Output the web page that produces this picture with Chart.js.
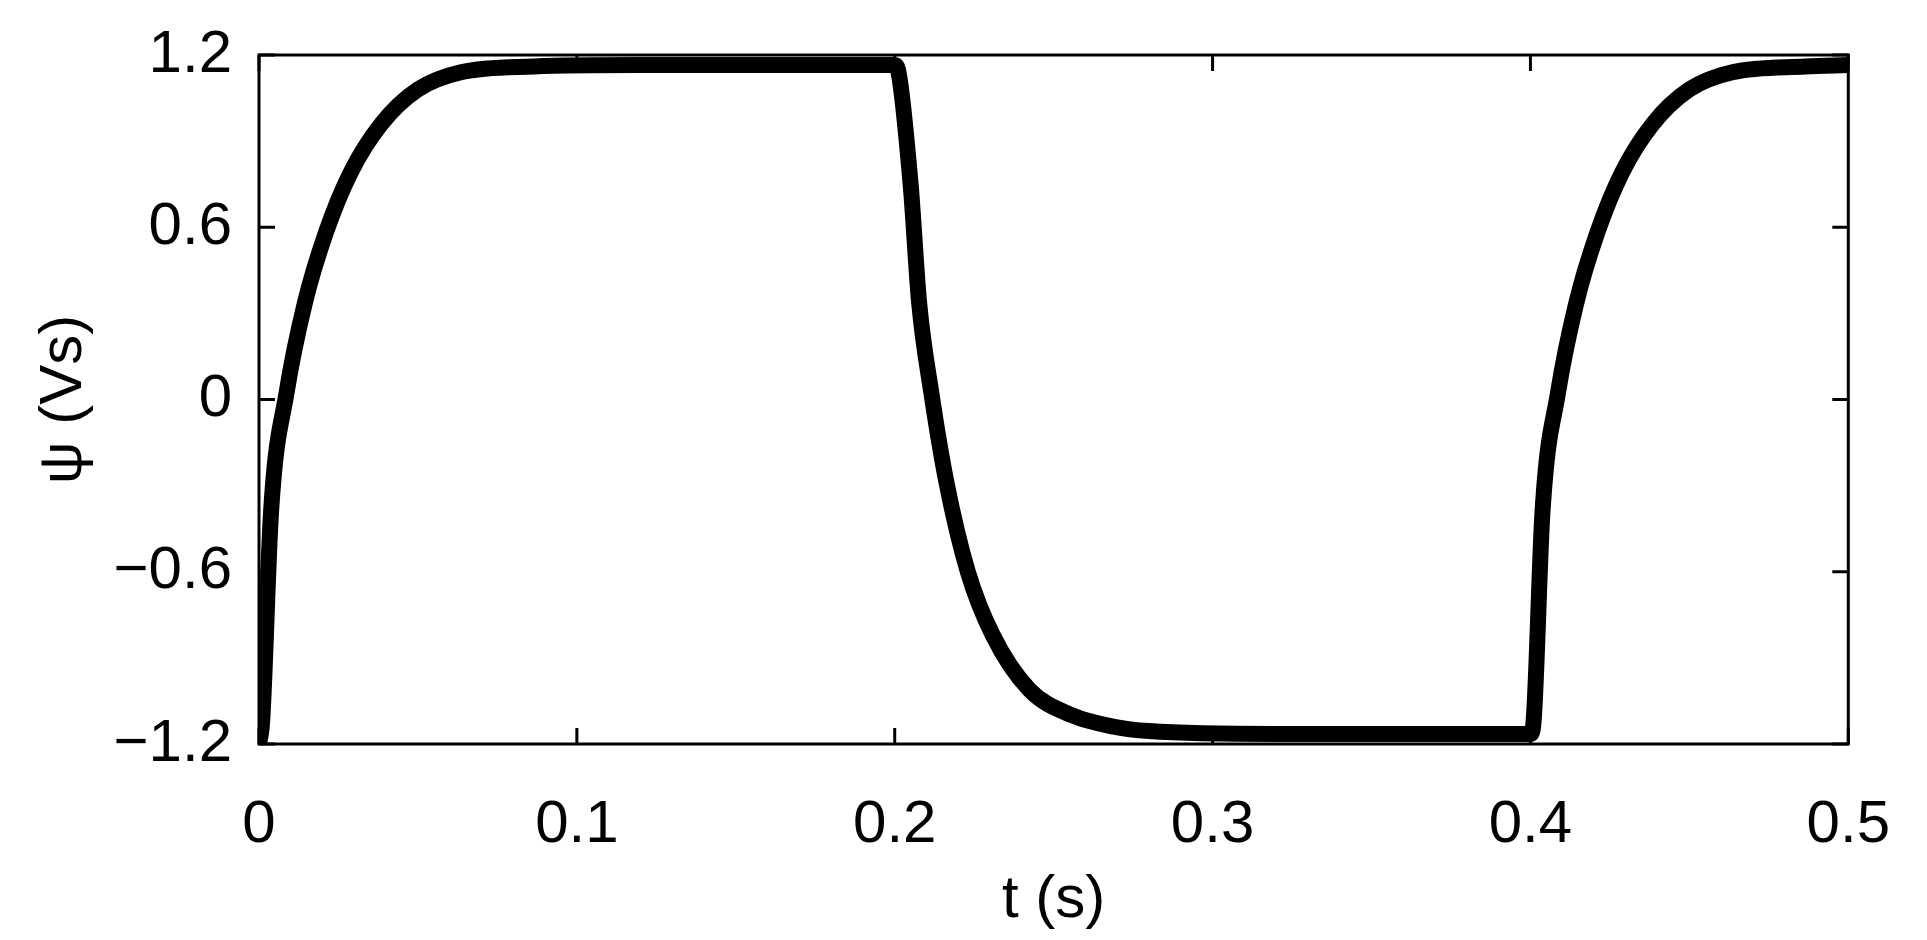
<!DOCTYPE html>
<html><head><meta charset="utf-8">
<script src="https://cdn.jsdelivr.net/npm/chart.js@4"></script>
<style>html,body{margin:0;padding:0;background:#fff}#w{width:1927px;height:940px}</style>
</head><body><div id="w"><canvas id="c"></canvas></div>
<script>
const tValues = [0,0.001,0.0038,0.0087,0.0144,0.021,0.0288,0.0385,0.05,0.0635,0.0865,0.12,0.16,0.2,
  0.201,0.205,0.2077,0.2115,0.2163,0.223,0.2308,0.2423,0.2558,0.269,0.28,0.32,0.36,0.4,
  0.401,0.4038,0.4087,0.4144,0.421,0.4288,0.4385,0.45,0.4635,0.4865,0.5];
const psiValues = [-1.2,-1.12,-0.39,0.025,0.335,0.58,0.79,0.96,1.08,1.14,1.16,1.165,1.165,1.165,
  1.15,0.75,0.335,0.025,-0.29,-0.6,-0.82,-1.01,-1.1,-1.14,-1.155,-1.165,-1.165,-1.165,
  -1.12,-0.39,0.025,0.335,0.58,0.79,0.96,1.08,1.14,1.16,1.165];
const xTicks = [0,0.1,0.2,0.3,0.4,0.5];
const yTicks = [-1.2,-0.6,0,0.6,1.2];
const pts = tValues.map((t,i)=>({x:t,y:psiValues[i]}));
const F = 'Liberation Sans, Arial, sans-serif';
const fmt = v => { const s = (Math.round(v*10)/10).toString(); return s.replace('-', '\u2212'); };
const frame = {
  id:'frame',
  afterDatasetsDraw(ch){
    const {ctx, chartArea:a, scales:{x,y}} = ch;
    ctx.save(); ctx.strokeStyle='#000'; ctx.lineWidth=3;
    ctx.strokeRect(a.left,a.top,a.right-a.left,a.bottom-a.top);
    const L=16; ctx.beginPath();
    xTicks.forEach(v=>{const p=x.getPixelForValue(v);ctx.moveTo(p,a.bottom);ctx.lineTo(p,a.bottom-L);ctx.moveTo(p,a.top);ctx.lineTo(p,a.top+L);});
    yTicks.forEach(v=>{const p=y.getPixelForValue(v);ctx.moveTo(a.left,p);ctx.lineTo(a.left+L,p);ctx.moveTo(a.right,p);ctx.lineTo(a.right-L,p);});
    ctx.stroke(); ctx.restore();
  }
};
new Chart(document.getElementById('c'),{
  type:'line',
  data:{datasets:[{data:pts,borderColor:'#000',borderWidth:16,pointRadius:0,cubicInterpolationMode:'monotone',borderCapStyle:'butt'}]},
  options:{responsive:true,maintainAspectRatio:false,animation:false,
    layout:{padding:{top:49,right:70,left:0,bottom:0}},
    plugins:{legend:{display:false},tooltip:{enabled:false}},
    scales:{
      x:{type:'linear',min:0,max:0.5,afterBuildTicks(s){s.ticks=xTicks.map(v=>({value:v}));},
        afterFit(s){s.height=196;},
        grid:{display:false},border:{display:false},
        ticks:{padding:37,color:'#000',font:{family:F,size:60},callback:fmt,maxRotation:0},
        title:{display:true,text:'t (s)',color:'#000',font:{family:F,size:60},padding:{top:5}}},
      y:{min:-1.2,max:1.2,afterBuildTicks(s){s.ticks=yTicks.map(v=>({value:v}));},
        afterFit(s){s.width=259;},
        grid:{display:false},border:{display:false},
        ticks:{padding:19,color:'#000',font:{family:F,size:60},callback:fmt},
        title:{display:true,text:'\u03C8 (Vs)',color:'#000',font:{family:F,size:60},padding:{top:28,bottom:0}}}
    }},
  plugins:[frame]
});
</script></body></html>
